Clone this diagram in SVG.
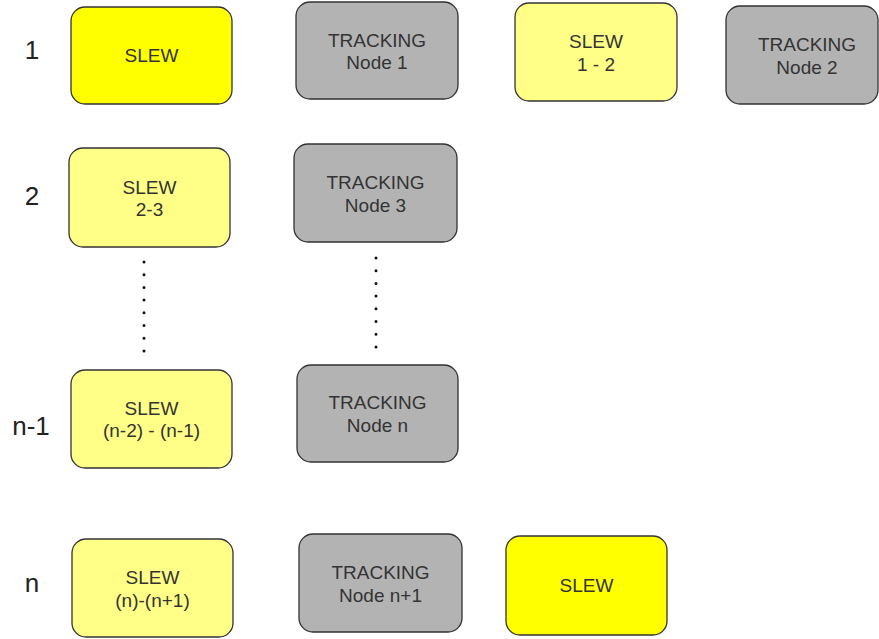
<svg xmlns="http://www.w3.org/2000/svg" width="879" height="639" viewBox="0 0 879 639">
<style>
.box{stroke:#333333;stroke-width:1.3}
.bright{fill:#FFFF00}
.light{fill:#FFFF88}
.gray{fill:#B3B3B3}
text{font-family:"Liberation Sans",Arial,sans-serif;fill:#333333;text-anchor:middle}
.t{font-size:19px}
.lbl{font-size:26px;fill:#222222}
.dots{stroke:#111111;stroke-width:3;stroke-linecap:round;stroke-dasharray:0 12.7;fill:none}
</style>
<rect width="879" height="639" fill="#ffffff"/>
<g id="labels">
<text class="lbl" x="32" y="59">1</text>
<text class="lbl" x="32" y="205">2</text>
<text class="lbl" x="31" y="435">n-1</text>
<text class="lbl" x="32" y="592">n</text>
</g>
<g id="connectors">
<line class="dots" x1="144" y1="262" x2="144" y2="352"/>
<line class="dots" x1="376" y1="258" x2="376" y2="348"/>
</g>
<g id="slew1"><rect class="box bright" x="71" y="7" width="161" height="97" rx="14"/><text class="t" x="151.5" y="62">SLEW</text></g>
<g id="track1"><rect class="box gray" x="296" y="2" width="162" height="97" rx="14"/><text class="t" x="377" y="46.5">TRACKING</text><text class="t" x="377" y="69">Node 1</text></g>
<g id="slew12"><rect class="box light" x="515" y="3" width="162" height="98" rx="14"/><text class="t" x="596" y="48">SLEW</text><text class="t" x="596" y="70.5">1 - 2</text></g>
<g id="track2"><rect class="box gray" x="726" y="6" width="152" height="98" rx="14"/><text class="t" x="807" y="51">TRACKING</text><text class="t" x="807" y="73.5">Node 2</text></g>
<g id="slew23"><rect class="box light" x="69" y="148" width="161" height="99" rx="14"/><text class="t" x="149.5" y="193.5">SLEW</text><text class="t" x="149.5" y="216">2-3</text></g>
<g id="track3"><rect class="box gray" x="294" y="144" width="163" height="98" rx="14"/><text class="t" x="375.5" y="189">TRACKING</text><text class="t" x="375.5" y="211.5">Node 3</text></g>
<g id="slewn1"><rect class="box light" x="71" y="370" width="161" height="98" rx="14"/><text class="t" x="151.5" y="414.5">SLEW</text><text class="t" x="151.5" y="437">(n-2) - (n-1)</text></g>
<g id="trackn"><rect class="box gray" x="297" y="365" width="161" height="97" rx="14"/><text class="t" x="377.5" y="409">TRACKING</text><text class="t" x="377.5" y="431.5">Node n</text></g>
<g id="slewn"><rect class="box light" x="72" y="539" width="161" height="98" rx="14"/><text class="t" x="152.5" y="584">SLEW</text><text class="t" x="152.5" y="606.5">(n)-(n+1)</text></g>
<g id="tracknp1"><rect class="box gray" x="299" y="534" width="163" height="98" rx="14"/><text class="t" x="380.5" y="579">TRACKING</text><text class="t" x="380.5" y="601.5">Node n+1</text></g>
<g id="slewlast"><rect class="box bright" x="506" y="536" width="161" height="99" rx="14"/><text class="t" x="586.5" y="592">SLEW</text></g>
</svg>
